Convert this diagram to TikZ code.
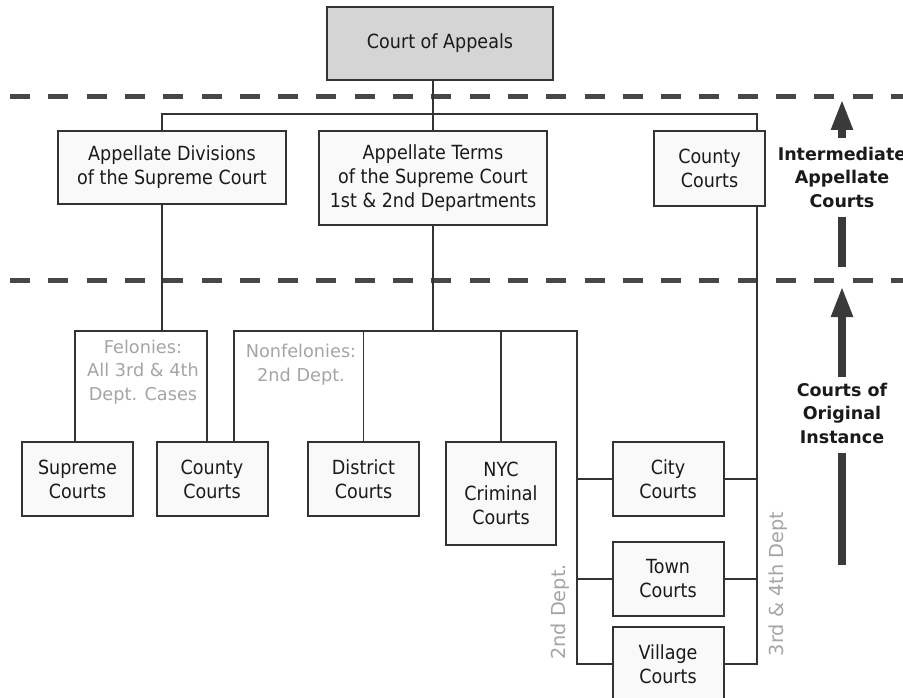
\documentclass[tikz,border=0pt]{standalone}
\usepackage{fontspec}
\setmainfont{DejaVu Sans}
\newfontfamily\boxfont[FakeStretch=0.9]{DejaVu Sans}
\usetikzlibrary{arrows.meta}
\definecolor{boxline}{HTML}{333333}
\definecolor{boxfill}{HTML}{F9F9F9}
\definecolor{coafill}{HTML}{D5D5D5}
\definecolor{txt}{HTML}{1A1A1A}
\definecolor{graytxt}{HTML}{A5A5A5}
\definecolor{dashc}{HTML}{474747}
\definecolor{arrowc}{HTML}{3A3A3A}
\begin{document}
\begin{tikzpicture}[x=1pt,y=-1pt,
  court/.style={draw=boxline, line width=2pt, fill=boxfill, inner sep=0pt, align=center,
    text=txt, font=\boxfont\fontsize{19.5}{24}\selectfont},
  smallcourt/.style={court, minimum width=111pt, minimum height=74pt},
  conn/.style={draw=boxline, line width=1.7pt},
  graylbl/.style={inner sep=0pt, align=center, text=graytxt, font=\fontsize{17.7}{23.5}\selectfont},
  graylbltwo/.style={inner sep=0pt, align=center, text=graytxt, font=\fontsize{19.3}{23.5}\selectfont},
  sidelbl/.style={inner sep=0pt, align=center, text=txt, font=\bfseries\fontsize{17.5}{23.5}\selectfont},
  levelline/.style={draw=dashc, line width=4.5pt, dash pattern=on 20pt off 18.3pt},
  arrowshaft/.style={draw=arrowc, line width=8pt},
  arrowtipped/.style={arrowshaft, -{Triangle[width=20pt,length=31pt]}}
]
\useasboundingbox (0,0) rectangle (903,698);
\clip (0,0) rectangle (903,698);
\fill[white] (0,0) rectangle (903,698);

% level lines
\coordinate (dA1) at (10,96.7);
\coordinate (dA2) at (910,96.7);
\coordinate (dB1) at (10,280.7);
\coordinate (dB2) at (910,280.7);
\draw[levelline] (dA1) -- (dA2);
\draw[levelline] (dB1) -- (dB2);

% courts
\node[court, fill=coafill, minimum width=226pt, minimum height=73pt] (coa) at (440,43.5) {Court of Appeals};
\node[court, minimum width=228pt, minimum height=73pt] (appdiv) at (172,167.5) {Appellate Divisions\\of the Supreme Court};
\node[court, minimum width=228pt, minimum height=94pt] (terms) at (433,178) {Appellate Terms\\of the Supreme Court\\1st \& 2nd Departments};
\node[court, minimum width=111pt, minimum height=75pt] (ucounty) at (709.5,168.5) {County\\Courts};

\node[smallcourt] (supreme) at (77.5,479) {Supreme\\Courts};
\node[smallcourt] (lcounty) at (212,479) {County\\Courts};
\node[smallcourt] (district) at (363.5,479) {District\\Courts};
\node[court, minimum width=110pt, minimum height=103pt] (nyc) at (501,493.5) {NYC\\Criminal\\Courts};
\node[smallcourt] (city) at (668,479) {City\\Courts};
\node[smallcourt] (town) at (668,579) {Town\\Courts};
\node[smallcourt] (village) at (668,664) {Village\\Courts};

% connectors, upper
\coordinate (jA) at (162,114);
\coordinate (jB) at (757,114);
\draw[conn] (coa.south -| terms.north) -- (terms.north);
\draw[conn] (appdiv.north -| jA) -- (jA) -- (jB) -- (ucounty.north -| jB);

% connectors, lower
\coordinate (fA) at (75,331);
\coordinate (fB) at (207,331);
\coordinate (nA) at (234,331);
\coordinate (nB) at (577,331);
\draw[conn] (appdiv.south -| jA) -- (jA |- fA);
\draw[conn] (supreme.north -| fA) -- (fA) -- (fB) -- (lcounty.north -| fB);
\draw[conn] (terms.south) -- (terms.south |- nA);
\draw[conn] (lcounty.north -| nA) -- (nA) -- (nB) -- (nB |- village.west) -- (village.west);
\draw[conn] (district.north) -- (district.north |- nA);
\draw[conn] (nyc.north) -- (nyc.north |- nA);
\draw[conn] (nB |- city.west) -- (city.west);
\draw[conn] (nB |- town.west) -- (town.west);
\draw[conn] (ucounty.south -| jB) -- (jB |- village.east) -- (village.east);
\draw[conn] (city.east) -- (city.east -| jB);
\draw[conn] (town.east) -- (town.east -| jB);

% grey labels
\node[graylbl] (fel) at (143,372) {Felonies:\\All 3rd \& 4th\\Dept. Cases};
\node[graylbl] (nonfel) at (301,364.5) {Nonfelonies:\\2nd Dept.};
\node[graylbltwo, rotate=90] (dtwo) at (560,612) {2nd Dept.};
\node[graylbltwo, rotate=90] (dthree) at (778,584) {3rd \& 4th Dept};

% level labels and arrows
\node[sidelbl] (ial) at (842,177) {Intermediate\\Appellate\\Courts};
\node[sidelbl] (coi) at (842,413) {Courts of\\Original\\Instance};
\coordinate (a1s) at (842,138);
\coordinate (a1t) at (842,99);
\coordinate (a2s) at (842,217);
\coordinate (a2e) at (842,267);
\coordinate (b1s) at (842,377);
\coordinate (b1t) at (842,286);
\coordinate (b2s) at (842,453);
\coordinate (b2e) at (842,565);
\draw[arrowtipped] (a1s) -- (a1t);
\draw[arrowshaft] (a2s) -- (a2e);
\draw[arrowtipped] (b1s) -- (b1t);
\draw[arrowshaft] (b2s) -- (b2e);
\end{tikzpicture}
\end{document}
